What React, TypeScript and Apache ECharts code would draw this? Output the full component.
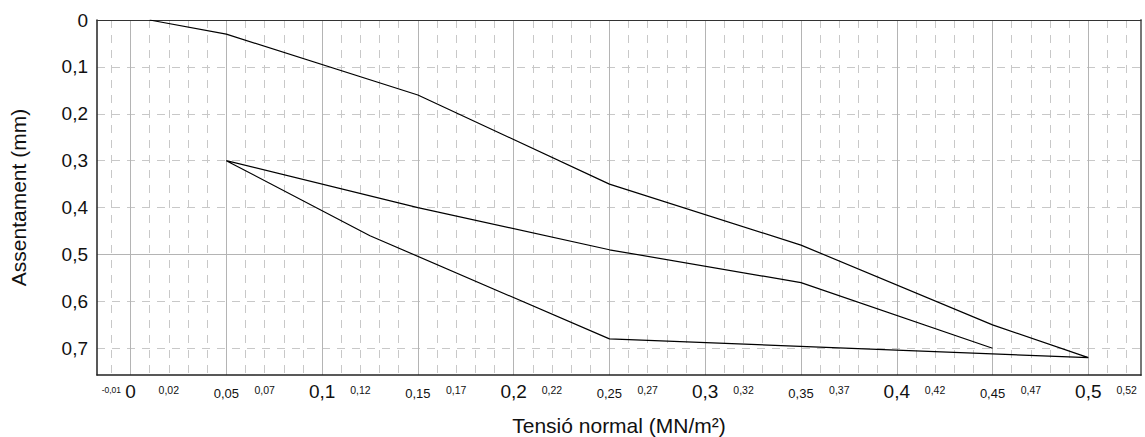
import React, { useEffect, useRef } from 'react';
import * as echarts from 'echarts';

// Load path: normal stress (MN/m²) and settlement (mm)
const stress = [0.01, 0.05, 0.15, 0.25, 0.35, 0.45, 0.5, 0.25, 0.125, 0.05, 0.15, 0.25, 0.35, 0.45];
const settlement = [0, 0.03, 0.16, 0.35, 0.48, 0.65, 0.72, 0.68, 0.46, 0.3, 0.4, 0.49, 0.56, 0.7];

const xLabelValues = [
  -0.01, 0, 0.02, 0.05, 0.07, 0.1, 0.12, 0.15, 0.17, 0.2, 0.22, 0.25, 0.27,
  0.3, 0.32, 0.35, 0.37, 0.4, 0.42, 0.45, 0.47, 0.5, 0.52,
];
const yLabelValues = [0, 0.1, 0.2, 0.3, 0.4, 0.5, 0.6, 0.7];
const xMajorGrid = [0, 0.05, 0.1, 0.15, 0.2, 0.25, 0.3, 0.35, 0.4, 0.45, 0.5];
const yMajorGrid = [0.5];
const xMinorGrid: number[] = [];
for (let i = -1; i <= 52; i++) xMinorGrid.push(i / 100);
const yMinorGrid = [0, 0.1, 0.2, 0.3, 0.4, 0.5, 0.6, 0.7];

const FONT = '"Liberation Sans", Arial, sans-serif';
const X_MIN = -0.0175;
const X_MAX = 0.5275;
const Y_MAX = 0.757;

function fmt(v: number) {
  return String(Math.round(v * 100) / 100).replace('.', ',');
}

export default function App() {
  const ref = useRef<HTMLDivElement>(null);
  useEffect(() => {
    document.body.style.margin = '0';
    if (!ref.current) return;
    const chart = echarts.init(ref.current, null, { renderer: 'svg' });
    chart.setOption({
      animation: false,
      backgroundColor: '#fff',
      grid: { left: 97, top: 20, right: 4, bottom: 62, containLabel: false, outerBoundsMode: 'none' },
      xAxis: [
        {
          type: 'value',
          min: X_MIN,
          max: X_MAX,
          position: 'bottom',
          name: 'Tensió normal (MN/m²)',
          nameLocation: 'middle',
          nameGap: 40,
          nameTextStyle: { fontSize: 21, color: '#111', fontFamily: FONT },
          axisLine: { show: true, onZero: false, lineStyle: { color: '#222', width: 1.5 } },
          axisTick: { show: false, customValues: xMinorGrid },
          axisLabel: {
            customValues: xLabelValues,
            margin: 16,
            verticalAlign: 'middle',
            color: '#111',
            fontFamily: FONT,
            formatter: (v: number) => {
              const r = Math.round(v * 100);
              if (r < 0) return '{xs|' + fmt(v) + '}';
              if (r % 10 === 0) return '{l|' + fmt(v) + '}';
              if (r % 5 === 0) return '{m|' + fmt(v) + '}';
              return '{s|' + fmt(v) + '}';
            },
            rich: {
              l: { fontSize: 19, color: '#111', fontFamily: FONT },
              m: { fontSize: 13, color: '#111', fontFamily: FONT, padding: [4, 0, 0, 0] },
              s: { fontSize: 10.5, color: '#111', fontFamily: FONT, padding: [0, 0, 3, 0] },
              xs: { fontSize: 8.5, color: '#111', fontFamily: FONT, padding: [0, 0, 3, 0] },
            },
          },
          splitLine: { show: true, lineStyle: { color: '#c8c8c8', type: [8, 7], width: 1 } },
        },
        {
          type: 'value',
          min: X_MIN,
          max: X_MAX,
          position: 'top',
          axisLine: { show: true, onZero: false, lineStyle: { color: '#333', width: 1 } },
          axisTick: { show: false, customValues: xMajorGrid },
          axisLabel: { show: false },
          splitLine: { show: true, lineStyle: { color: '#b4b4b4', type: 'solid', width: 1 } },
        },
      ],
      yAxis: [
        {
          type: 'value',
          inverse: true,
          min: 0,
          max: Y_MAX,
          position: 'left',
          name: 'Assentament (mm)',
          nameLocation: 'middle',
          nameGap: 68,
          nameRotate: 90,
          nameTextStyle: { fontSize: 21, color: '#111', fontFamily: FONT },
          axisLine: { show: true, onZero: false, lineStyle: { color: '#222', width: 1.5 } },
          axisTick: { show: false, customValues: yMinorGrid },
          axisLabel: {
            customValues: yLabelValues,
            margin: 9,
            fontSize: 19,
            color: '#111',
            fontFamily: FONT,
            formatter: (v: number) => fmt(v),
          },
          splitLine: { show: true, lineStyle: { color: '#c8c8c8', type: [8, 7], width: 1 } },
        },
        {
          type: 'value',
          inverse: true,
          min: 0,
          max: Y_MAX,
          position: 'right',
          axisLine: { show: true, onZero: false, lineStyle: { color: '#777', width: 2 } },
          axisTick: { show: false, customValues: yMajorGrid },
          axisLabel: { show: false },
          splitLine: { show: true, lineStyle: { color: '#b4b4b4', type: 'solid', width: 1 } },
        },
      ],
      series: [
        {
          type: 'line',
          xAxisIndex: 0,
          yAxisIndex: 0,
          data: stress.map((x, i) => [x, settlement[i]]),
          symbol: 'none',
          showSymbol: false,
          lineStyle: { color: '#000', width: 1.2 },
          z: 10,
        },
      ],
    });
    return () => chart.dispose();
  }, []);
  return <div ref={ref} style={{ width: 1145, height: 437 }} />;
}
